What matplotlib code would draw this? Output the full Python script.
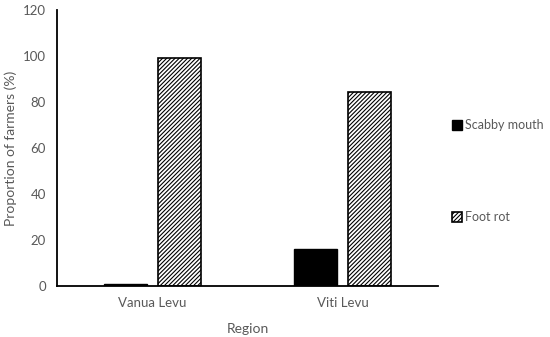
import numpy as np
import matplotlib.pyplot as plt

plt.rcParams["font.family"] = ["Lato", "DejaVu Sans"]
plt.rcParams["hatch.linewidth"] = 0.8

regions = ["Vanua Levu", "Viti Levu"]
scabby_mouth = [1, 16]
foot_rot = [99, 84.5]

grey = "#595959"
x = np.arange(len(regions))
w = 0.226
off = 0.142

fig = plt.figure(figsize=(5.5, 3.37), dpi=100)
ax = fig.add_axes([57 / 550, 1 - 286 / 337, (438 - 57) / 550, 276 / 337])

b1 = ax.bar(x - off, scabby_mouth, w, color="black", edgecolor="black",
            linewidth=1, label="Scabby mouth")
b2 = ax.bar(x + off, foot_rot, w, color="white", edgecolor="black",
            hatch="////////", linewidth=1.2, label="Foot rot")

ax.set_xlim(-0.5, 1.5)
ax.set_ylim(0, 120)
ax.set_yticks(range(0, 121, 20))
ax.set_xticks(x)
ax.set_xticklabels(regions)
ax.tick_params(axis="both", length=0, colors=grey, labelsize=9.5, pad=8)
ax.set_ylabel("Proportion of farmers (%)", color=grey, fontsize=10)
ax.set_xlabel("Region", color=grey, fontsize=10, labelpad=10)

for s in ["top", "right"]:
    ax.spines[s].set_visible(False)
ax.spines["left"].set_linewidth(1.3)
ax.spines["bottom"].set_linewidth(1.3)

fig.legend(handles=[b1, b2], loc="upper left", bbox_to_anchor=(441 / 550, 1 - 108 / 337),
           frameon=False, fontsize=9, labelcolor=grey, labelspacing=6.4,
           handlelength=0.8, handleheight=0.8, handletextpad=0.25)

fig.savefig("out.png", dpi=100)
